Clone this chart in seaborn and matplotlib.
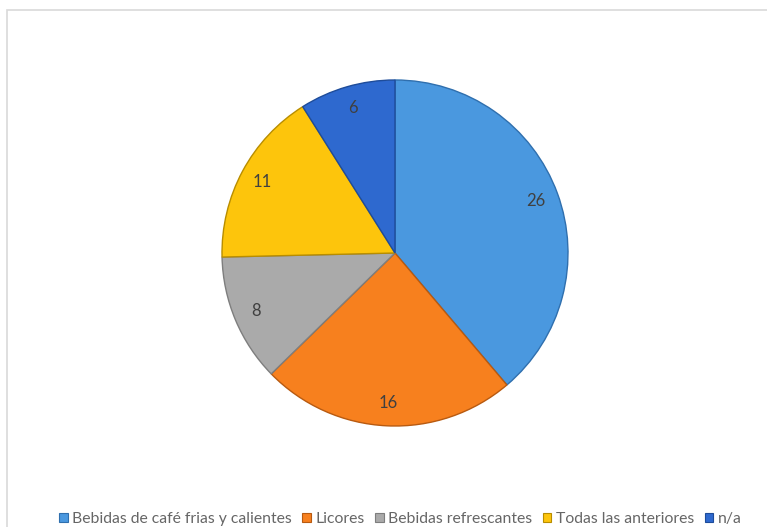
import matplotlib
matplotlib.use("Agg")
import matplotlib.pyplot as plt
import seaborn as sns
from matplotlib.patches import Rectangle, Patch

sns.set_theme(style="white")
plt.rcParams["font.family"] = ["Lato", "DejaVu Sans"]

categories = ["Bebidas de café frias y calientes", "Licores",
              "Bebidas refrescantes", "Todas las anteriores", "n/a"]
values = [26, 16, 8, 11, 6]
colors = ["#4A98DF", "#F7801E", "#AAAAAA", "#FDC50C", "#2E69CF"]
edges = ["#2F6FAE", "#B85A10", "#7E7E7E", "#B88D00", "#1E4C9A"]

W, H = 767, 527
fig = plt.figure(figsize=(W / 100, H / 100), dpi=100)
fig.patch.set_facecolor("white")

# light chart-area frame
fig.add_artist(Rectangle((7 / W, -0.05), 1.2, 1 - 10 / H + 0.05,
                         transform=fig.transFigure, fill=False,
                         edgecolor="#D9D9D9", linewidth=1.2))

cx, cy, r = 395, 253, 173
ax = fig.add_axes([(cx - r) / W, 1 - (cy + r) / H, 2 * r / W, 2 * r / H])
wedges, texts, autotexts = ax.pie(
    values, colors=colors, startangle=90, counterclock=False,
    autopct=lambda p: f"{round(p * sum(values) / 100):d}",
    pctdistance=0.87,
    wedgeprops=dict(linewidth=1.0),
    textprops=dict(color="#404040", fontsize=12),
)
for w, ec in zip(wedges, edges):
    w.set_edgecolor(ec)
ax.set_aspect("equal")
ax.set_xlim(-1, 1)
ax.set_ylim(-1, 1)
ax.axis("off")

handles = [Patch(facecolor=c, edgecolor=e, linewidth=0.8)
           for c, e in zip(colors, edges)]
fig.legend(handles, categories, loc="center", bbox_to_anchor=(0.522, 1 - 519 / H),
           ncol=5, frameon=False, fontsize=11.3, handlelength=0.55,
           handleheight=0.55, handletextpad=0.3, columnspacing=0.65,
           labelcolor="#666666")

fig.savefig("out.png", dpi=100, facecolor="white")
